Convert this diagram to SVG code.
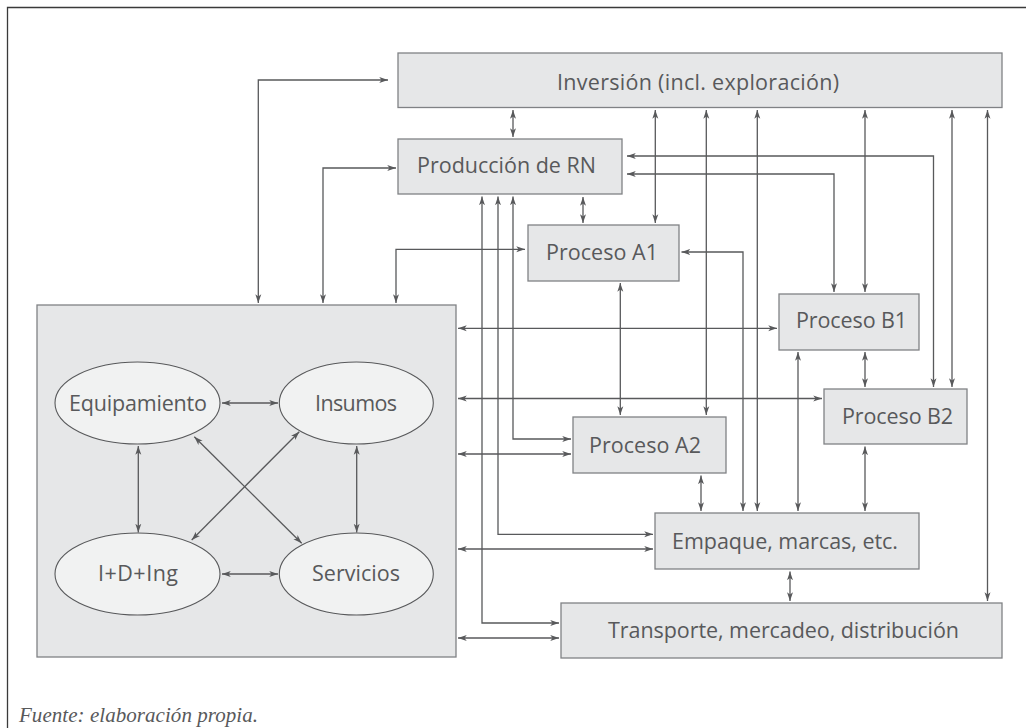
<svg xmlns="http://www.w3.org/2000/svg" width="1026" height="728" viewBox="0 0 1026 728">
<style>
.box{fill:#e6e7e8;stroke:#808285;stroke-width:1.3}
.ell{fill:#f1f2f2;stroke:#58595b;stroke-width:1.1}
.t{font-family:"Open Sans","Liberation Sans",sans-serif;font-size:21.5px;fill:#58595b;text-anchor:middle}
.c{fill:none;stroke:#58595b;stroke-width:1.3;marker-start:url(#ah);marker-end:url(#ah)}
.frame{fill:none;stroke:#3a3a3a;stroke-width:1.3}
</style>
<defs>
<marker id="ah" viewBox="0 0 10 8" refX="10" refY="4" markerWidth="9" markerHeight="7" markerUnits="userSpaceOnUse" orient="auto-start-reverse">
<path d="M0,0.6 L10,4 L0,7.4 L2.6,4 z" fill="#58595b"/>
</marker>
</defs>
<rect width="1026" height="728" fill="#ffffff"/>
<path class="frame" d="M7.5,728 V7.5 H1026"/>

<g id="sistema">
<rect class="box" x="37" y="305" width="419" height="352"/>
</g>
<g id="equipamiento">
<ellipse class="ell" cx="137.5" cy="403" rx="82.5" ry="41"/>
<text class="t" x="138" y="411" textLength="138">Equipamiento</text>
</g>
<g id="insumos">
<ellipse class="ell" cx="356.3" cy="403" rx="77" ry="41"/>
<text class="t" x="356" y="411" textLength="82">Insumos</text>
</g>
<g id="idi">
<ellipse class="ell" cx="137.5" cy="574" rx="82.5" ry="41"/>
<text class="t" x="138" y="581" textLength="80">I+D+Ing</text>
</g>
<g id="servicios">
<ellipse class="ell" cx="356.3" cy="574" rx="77" ry="41"/>
<text class="t" x="356" y="581" textLength="88">Servicios</text>
</g>

<g id="inversion">
<rect class="box" x="398" y="53" width="604" height="54.5"/>
<text class="t" x="698" y="90" textLength="282">Inversión (incl. exploración)</text>
</g>
<g id="produccion">
<rect class="box" x="398" y="139" width="224" height="55"/>
<text class="t" x="506.5" y="173" textLength="179">Producción de RN</text>
</g>
<g id="procesoA1">
<rect class="box" x="528" y="225" width="151" height="56"/>
<text class="t" x="602" y="260" textLength="112">Proceso A1</text>
</g>
<g id="procesoB1">
<rect class="box" x="779" y="294" width="140" height="56"/>
<text class="t" x="851.5" y="328" textLength="111">Proceso B1</text>
</g>
<g id="procesoB2">
<rect class="box" x="824" y="389" width="143" height="55"/>
<text class="t" x="897.5" y="424" textLength="111">Proceso B2</text>
</g>
<g id="procesoA2">
<rect class="box" x="573" y="417" width="153" height="56"/>
<text class="t" x="645" y="453" textLength="112">Proceso A2</text>
</g>
<g id="empaque">
<rect class="box" x="655" y="513" width="264" height="56"/>
<text class="t" x="785" y="549" textLength="226">Empaque, marcas, etc.</text>
</g>
<g id="transporte">
<rect class="box" x="561" y="603" width="441" height="55"/>
<text class="t" x="783.5" y="637.5" textLength="351">Transporte, mercadeo, distribución</text>
</g>

<g id="connectors">
<path class="c" d="M258.3,303 V80 H388"/>
<path class="c" d="M323,303 V168 H396"/>
<path class="c" d="M396,303 V249.3 H525"/>
<path class="c" d="M513,110 V137"/>
<path class="c" d="M583,197 V223"/>
<path class="c" d="M655.3,110 V223"/>
<path class="c" d="M706.3,110 V415"/>
<path class="c" d="M757.3,110 V511"/>
<path class="c" d="M865,110 V292"/>
<path class="c" d="M952,110 V387"/>
<path class="c" d="M987.5,110 V601"/>
<path class="c" d="M627,156 H933.5 V387"/>
<path class="c" d="M627,174 H834 V292"/>
<path class="c" d="M743,511 V252 H681.5"/>
<path class="c" d="M482,196.5 V623 H559"/>
<path class="c" d="M498,196.5 V534.3 H653"/>
<path class="c" d="M513,196.5 V439 H571"/>
<path class="c" d="M620.3,283 V415"/>
<path class="c" d="M701,475.5 V511"/>
<path class="c" d="M865,352 V387"/>
<path class="c" d="M798,352 V511"/>
<path class="c" d="M865,446.5 V511"/>
<path class="c" d="M790,571.5 V601"/>
<path class="c" d="M458,328.3 H777"/>
<path class="c" d="M458,398.5 H822"/>
<path class="c" d="M458,454 H571"/>
<path class="c" d="M458,549 H653"/>
<path class="c" d="M458,638 H559"/>
<path class="c" d="M222,403 H278"/>
<path class="c" d="M222,574 H278"/>
<path class="c" d="M138.3,446 V532.5"/>
<path class="c" d="M356.7,446 V532.5"/>
<path class="c" d="M194.3,436.7 L301.7,543.3"/>
<path class="c" d="M299.3,431.7 L191.7,540"/>
</g>

<text x="19" y="722" font-family="'Liberation Serif',serif" font-style="italic" font-size="21" fill="#58595b" textLength="239">Fuente: elaboración propia.</text>
</svg>
